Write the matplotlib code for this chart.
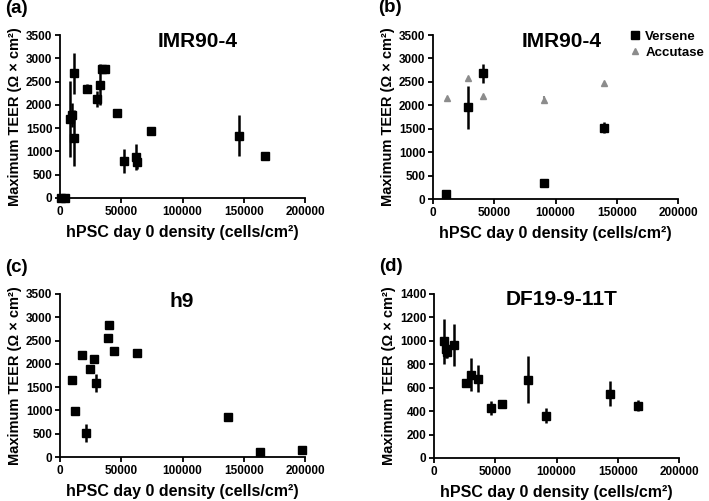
import numpy as np
import matplotlib.pyplot as plt
from matplotlib.lines import Line2D

plt.rcParams['font.family'] = ['Liberation Sans', 'DejaVu Sans']
plt.rcParams['font.weight'] = 'bold'

# (a) IMR90-4
a_x = [1000, 4000, 8000, 9500, 11500, 11500, 22000, 30000, 32700, 34500, 36500,
       46300, 52500, 62000, 63000, 74000, 146000, 167500]
a_y = [0, 0, 1700, 1780, 2680, 1290, 2345, 2120, 2430, 2780, 2780,
       1830, 790, 880, 780, 1430, 1340, 900]
a_err = [0, 0, 820, 250, 440, 600, 100, 170, 440, 60, 60,
         50, 260, 270, 150, 40, 440, 70]

# (b) IMR90-4, Versene vs Accutase
b_vx = [10900, 28800, 41100, 90900, 139300]
b_vy = [110, 1955, 2680, 340, 1525]
b_verr = [0, 455, 195, 0, 110]
b_ax = [11200, 28800, 41100, 90600, 139600]
b_ay = [2160, 2580, 2200, 2120, 2480]
b_aerr = [0, 0, 0, 80, 0]

# (c) h9
c_x = [9500, 12000, 18200, 21200, 24500, 27800, 29400, 38900, 40000, 44400,
       63100, 137100, 163300, 197800]
c_y = [1660, 980, 2185, 515, 1885, 2100, 1590, 2550, 2825, 2285,
       2225, 850, 115, 140]
c_err = [90, 0, 0, 190, 0, 40, 200, 50, 80, 0,
         0, 0, 0, 0]

# (d) DF19-9-11T
d_x = [8000, 9500, 10800, 16600, 25900, 30200, 36200, 46500, 55300, 77000,
       91300, 143300, 166200]
d_y = [995, 930, 905, 965, 640, 712, 678, 425, 465, 668,
       362, 550, 447]
d_err = [195, 80, 50, 180, 0, 138, 115, 60, 22, 202,
         65, 105, 50]

xticks = [0, 50000, 100000, 150000, 200000]
xlabel = 'hPSC day 0 density (cells/cm\u00b2)'
ylabel = 'Maximum TEER (\u03a9 \u00d7 cm\u00b2)'
GREY = '#8c8c8c'

fig = plt.figure(figsize=(7.09, 5.01), dpi=100)
axes = [
    fig.add_axes([60 / 709, 1 - 198 / 501, 245 / 709, 163 / 501]),
    fig.add_axes([433 / 709, 1 - 199 / 501, 245 / 709, 164 / 501]),
    fig.add_axes([60 / 709, 1 - 457 / 501, 245 / 709, 163 / 501]),
    fig.add_axes([434 / 709, 1 - 458 / 501, 245 / 709, 164 / 501]),
]


def style(ax, ymax, ystep, title, tx, ty, letter):
    ax.set_xlim(0, 200000)
    ax.set_ylim(0, ymax)
    ax.set_xticks(xticks)
    ax.set_xticklabels([str(t) for t in xticks])
    ax.set_yticks(np.arange(0, ymax + 1, ystep))
    for s in ['top', 'right']:
        ax.spines[s].set_visible(False)
    for s in ['left', 'bottom']:
        ax.spines[s].set_linewidth(1.3)
    ax.tick_params(width=1.3, length=3.5, labelsize=8.5, pad=2)
    for lab in ax.get_xticklabels() + ax.get_yticklabels():
        lab.set_fontweight('bold')
    ax.set_xlabel(xlabel, fontsize=11.5, fontweight='bold', labelpad=5)
    ax.set_ylabel(ylabel, fontsize=10.5, fontweight='bold', labelpad=3)
    ax.text(tx, ty, title, fontsize=15, fontweight='bold', ha='center', va='center')
    ax.text(-0.225, 1.165, letter, transform=ax.transAxes, fontsize=13.5,
            fontweight='bold', ha='left', va='center')


def squares(ax, x, y, err):
    ax.errorbar(x, y, yerr=err, fmt='s', color='black', ms=5.5, elinewidth=1.8,
                capsize=0, clip_on=False)


ax = axes[0]
squares(ax, a_x, a_y, a_err)
style(ax, 3500, 500, 'IMR90-4', 112000, 3350, '(a)')

ax = axes[1]
squares(ax, b_vx, b_vy, b_verr)
ax.errorbar(b_ax, b_ay, yerr=b_aerr, fmt='^', color=GREY, ms=5,
            elinewidth=1.5, capsize=0, clip_on=False)
style(ax, 3500, 500, 'IMR90-4', 105000, 3370, '(b)')
handles = [Line2D([], [], ls='none', marker='s', color='black', ms=5.5),
           Line2D([], [], ls='none', marker='^', color=GREY, ms=5)]
ax.legend(handles, ['Versene', 'Accutase'], loc='upper left',
          bbox_to_anchor=(0.775, 1.06), frameon=False, handletextpad=0.3,
          handlelength=1.0, labelspacing=0.3, borderaxespad=0,
          prop={'weight': 'bold', 'size': 9.5})

ax = axes[2]
squares(ax, c_x, c_y, c_err)
style(ax, 3500, 500, 'h9', 99600, 3335, '(c)')

ax = axes[3]
squares(ax, d_x, d_y, d_err)
style(ax, 1400, 200, 'DF19-9-11T', 104500, 1349, '(d)')

fig.savefig('out.png', dpi=100)
